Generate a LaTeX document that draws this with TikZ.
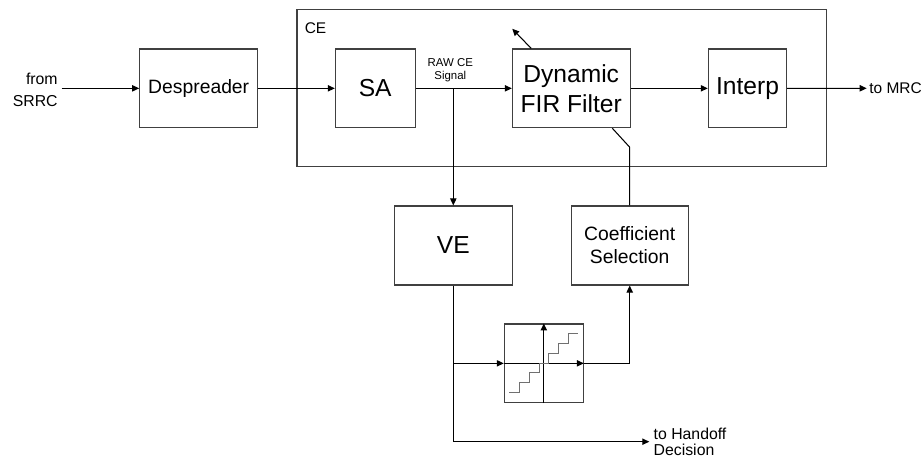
\documentclass[tikz,border=0pt]{standalone}
\usepackage{fontspec}
\setmainfont{Liberation Sans}
\usetikzlibrary{arrows.meta,calc}
\definecolor{boxgray}{HTML}{404040}
\definecolor{stairgray}{HTML}{707070}

\begin{document}
\begin{tikzpicture}[x=1cm,y=1cm,
  blk/.style={draw=boxgray,line width=0.6pt,inner sep=0pt,align=center},
  bigtxt/.style={font=\fontsize{14}{17}\selectfont},
  midtxt/.style={font=\fontsize{11}{13}\selectfont},
  smalltxt/.style={font=\fontsize{9}{9.5}\selectfont},
  sig/.style={line width=0.6pt,-{Triangle[length=4pt,width=3.6pt]}},
  wire/.style={line width=0.6pt}]
\useasboundingbox (0,0) rectangle (18.48,9.22);
% channel estimator frame
\node[blk,minimum width=10.594cm,minimum height=3.148cm] (ce) at (11.237,7.46) {};
\node[font=\fontsize{8.8}{10}\selectfont,anchor=west,inner sep=0pt] (celbl) at ($(ce.north west)+(0.16,-0.39)$) {CE};
% blocks
\node[blk,midtxt,minimum width=2.36cm,minimum height=1.574cm] (desp) at (3.974,7.453) {Despreader};
\node[blk,bigtxt,minimum width=1.594cm,minimum height=1.574cm] (sa) at (7.504,7.453) {SA};
\node[blk,bigtxt,minimum width=2.354cm,minimum height=1.574cm] (fir) at (11.424,7.453) {Dynamic\\FIR Filter};
\node[blk,bigtxt,minimum width=1.568cm,minimum height=1.574cm] (interp) at (14.95,7.453) {Interp};
\node[blk,bigtxt,minimum width=2.36cm,minimum height=1.58cm] (ve) at (9.066,4.31) {VE};
\node[blk,midtxt,minimum width=2.346cm,minimum height=1.58cm] (coef) at (12.594,4.31) {Coefficient\\Selection};
\node[blk,minimum width=1.58cm,minimum height=1.574cm] (quant) at (10.876,1.953) {};
% labels
\node[smalltxt,align=right,anchor=east,inner sep=0pt,inner xsep=2.1pt,font=\fontsize{9}{12.3}\selectfont] (src) at (1.234,7.42) {from\\SRRC};
\node[smalltxt,anchor=west,inner sep=0pt,inner xsep=1.3pt,font=\fontsize{8.8}{10}\selectfont] (mrc) at (17.334,7.454) {to MRC};
\node[smalltxt,align=left,anchor=west,inner sep=0pt,inner xsep=2.3pt] (hand) at (12.986,0.386) {to Handoff\\Decision};
\node[align=center,inner sep=0pt,font=\fontsize{6.5}{7.5}\selectfont] (raw) at (9.006,7.82) {RAW CE\\Signal};
% main path
\draw[sig] (src.east |- desp.west) -- (desp.west);
\draw[sig] (desp.east) -- (sa.west);
\draw[sig] (sa.east) -- (fir.west);
\draw[sig] (fir.east) -- (interp.west);
\draw[sig] (interp.east) -- (mrc.west);
\draw[sig] (sa.east -| ve.north) -- (ve.north);
\coordinate (adapt) at ($(fir.north west)+(0.008,0.394)$);
\draw[sig] ($(fir.north west)+(0.388,0)$) -- (adapt);
\coordinate (kink) at ($(fir.south east)+(0,-0.38)$);
\draw[wire] ($(fir.south east)+(-0.366,0)$) -- (kink -| coef.north) -- (coef.north);
% velocity path and quantizer
\draw[sig] (ve.south) -- (ve.south |- hand.west) -- (hand.west);
\draw[sig] (ve.south |- quant.west) -- (quant.west);
\draw[sig] (quant.west) -- (quant.east);
\draw[sig] (quant.south) -- (quant.north);
\draw[sig] (quant.east) -- (quant.east -| coef.south) -- (coef.south);
\draw[wire,stairgray] ($(quant.center)+(-0.69,-0.59)$) -- ++(0.2,0) -- ++(0,0.2) -- ++(0.2,0) -- ++(0,0.2) -- ++(0.2,0) -- ++(0,0.19)
  -- ++(0.18,0) -- ++(0,0.2) -- ++(0.2,0) -- ++(0,0.2) -- ++(0.2,0) -- ++(0,0.19) -- ++(0.2,0);
\end{tikzpicture}
\end{document}
